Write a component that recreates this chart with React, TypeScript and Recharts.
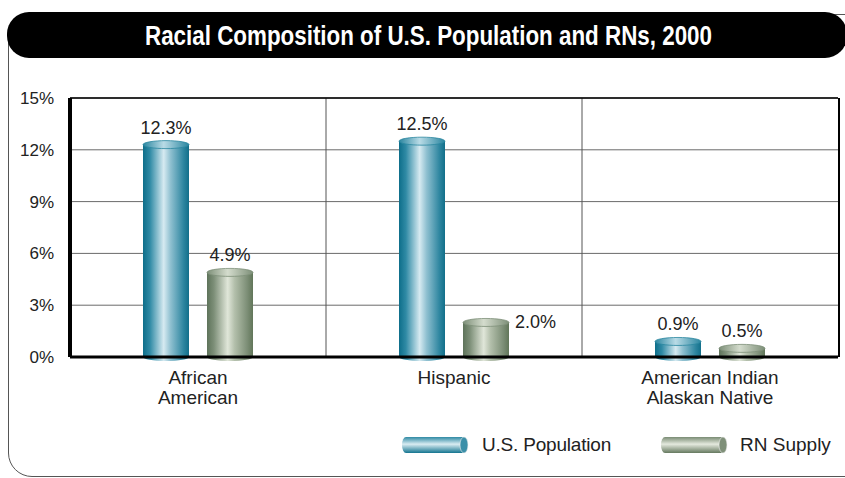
import React from 'react'
import {
  BarChart,
  Bar,
  XAxis,
  YAxis,
  CartesianGrid,
  ReferenceLine,
  LabelList,
} from 'recharts'

const categories = ['African\nAmerican', 'Hispanic', 'American Indian\nAlaskan Native']
const usPopulation = [12.3, 12.5, 0.9]
const rnSupply = [4.9, 2.0, 0.5]
const yTicks = [0, 3, 6, 9, 12, 15]
const seriesNames = ['U.S. Population', 'RN Supply']

const data = categories.map((name, i) => ({
  name,
  us: usPopulation[i],
  rn: rnSupply[i],
}))

const FONT = '"Liberation Sans", Arial, sans-serif'

const Cylinder = (props: any) => {
  const { x, y, width, height, kind } = props
  if (!width || height == null) return null
  const ry = 4
  const cx = x + width / 2
  const body = `url(#${kind}Body)`
  const cap = kind === 'blue' ? '#2a86a0' : '#7d8f78'
  return (
    <g>
      <rect x={x} y={y} width={width} height={height} fill={body} />
      <ellipse cx={cx} cy={y + height} rx={width / 2} ry={ry} fill={body} />
      <ellipse cx={cx} cy={y} rx={width / 2} ry={ry} fill={`url(#${kind}Cap)`} stroke={cap} strokeWidth={0.8} />
    </g>
  )
}

const ValueLabel = (props: any) => {
  const { x, y, width, value, index, series } = props
  const text = `${Number(value).toFixed(1)}%`
  // the Hispanic RN label sits beside its bar in the original
  if (series === 'rn' && index === 1) {
    return (
      <text x={x + width + 6} y={y + 6} fontSize={18} fill="#222" fontFamily={FONT}>
        {text}
      </text>
    )
  }
  return (
    <text x={x + width / 2} y={y - 11} textAnchor="middle" fontSize={18} fill="#222" fontFamily={FONT}>
      {text}
    </text>
  )
}

const CategoryTick = (props: any) => {
  const { x, y, payload } = props
  const lines = String(payload.value).split('\n')
  return (
    <text x={x} y={y} textAnchor="middle" fontSize={19} fill="#222" fontFamily={FONT}>
      {lines.map((l, i) => (
        <tspan key={i} x={x} dy={i === 0 ? 19 : 20}>
          {l}
        </tspan>
      ))}
    </text>
  )
}

// dividers between the category bands
const bandDividers = ({ offset }: any) =>
  categories.slice(1).map((_, i) => offset.left + (offset.width * (i + 1)) / categories.length)

const LegendIcon = ({ kind }: { kind: string }) => (
  <svg width={68} height={20} style={{ display: 'block' }}>
    <defs>
      <linearGradient id={`${kind}Leg`} x1="0" y1="0" x2="0" y2="1">
        <stop offset="0" stopColor={kind === 'blue' ? '#2f8aa4' : '#7a8c74'} />
        <stop offset="0.45" stopColor={kind === 'blue' ? '#d9ecf2' : '#e4e9de'} />
        <stop offset="1" stopColor={kind === 'blue' ? '#137590' : '#65795f'} />
      </linearGradient>
    </defs>
    <rect x={4} y={2} width={58} height={16} fill={`url(#${kind}Leg)`} />
    <ellipse cx={4} cy={10} rx={4} ry={8} fill={`url(#${kind}Leg)`} />
    <ellipse cx={62} cy={10} rx={4} ry={8} fill={kind === 'blue' ? '#3b8fa8' : '#7f9079'} stroke="#eee" strokeWidth={0.6} />
  </svg>
)

export default function App() {
  return (
    <div
      style={{
        position: 'fixed',
        left: 0,
        top: 0,
        width: 845,
        height: 478,
        overflow: 'hidden',
        background: '#fff',
        fontFamily: FONT,
      }}
    >
      <div
        style={{
          position: 'absolute',
          left: 8,
          top: 14,
          width: 860,
          height: 461,
          border: '1.5px solid #555',
          borderRadius: 24,
        }}
      />
      <div
        style={{
          position: 'absolute',
          left: 7,
          top: 12,
          width: 840,
          height: 46,
          background: '#000',
          borderRadius: 22,
        }}
      >
        <svg width={840} height={46} style={{ display: 'block' }}>
          <text
            x={138}
            y={33}
            fill="#fff"
            fontSize={27}
            fontWeight="bold"
            fontFamily={'"Liberation Sans Narrow", "Liberation Sans", Arial, sans-serif'}
            textLength={567}
            lengthAdjust="spacingAndGlyphs"
          >
            Racial Composition of U.S. Population and RNs, 2000
          </text>
        </svg>
      </div>
      <div style={{ position: 'absolute', left: 0, top: 0 }}>
        <BarChart
          width={845}
          height={478}
          data={data}
          margin={{ top: 98, right: 7, left: 0, bottom: 61 }}
          barSize={46}
          barGap={18}
        >
          <defs>
            <linearGradient id="blueBody" x1="0" y1="0" x2="1" y2="0">
              <stop offset="0" stopColor="#0d6e8a" />
              <stop offset="0.15" stopColor="#2f8aa5" />
              <stop offset="0.45" stopColor="#d6eaf1" />
              <stop offset="0.6" stopColor="#8fc0d0" />
              <stop offset="0.88" stopColor="#2e86a0" />
              <stop offset="1" stopColor="#126f8a" />
            </linearGradient>
            <linearGradient id="blueCap" x1="0" y1="0" x2="1" y2="0">
              <stop offset="0" stopColor="#2a86a0" />
              <stop offset="0.45" stopColor="#b9dbe6" />
              <stop offset="1" stopColor="#2a86a0" />
            </linearGradient>
            <linearGradient id="greenBody" x1="0" y1="0" x2="1" y2="0">
              <stop offset="0" stopColor="#5e735a" />
              <stop offset="0.15" stopColor="#7d8f78" />
              <stop offset="0.45" stopColor="#e0e6d9" />
              <stop offset="0.6" stopColor="#b3bfab" />
              <stop offset="0.88" stopColor="#7b8d75" />
              <stop offset="1" stopColor="#617659" />
            </linearGradient>
            <linearGradient id="greenCap" x1="0" y1="0" x2="1" y2="0">
              <stop offset="0" stopColor="#7d8f78" />
              <stop offset="0.45" stopColor="#d4dccd" />
              <stop offset="1" stopColor="#7d8f78" />
            </linearGradient>
          </defs>
          <CartesianGrid vertical={false} stroke="#6a6a6a" strokeWidth={1} />
          <CartesianGrid horizontal={false} verticalCoordinatesGenerator={bandDividers} stroke="#555" strokeWidth={1} />
          <XAxis
            dataKey="name"
            height={60}
            tick={<CategoryTick />}
            tickLine={false}
            axisLine={{ stroke: '#000', strokeWidth: 3 }}
            interval={0}
          />
          <YAxis
            width={70}
            domain={[0, 15]}
            ticks={yTicks}
            tickFormatter={(v) => `${v}%`}
            tickLine={false}
            tickSize={0}
            tickMargin={16}
            axisLine={{ stroke: '#000', strokeWidth: 4 }}
            tick={{ fill: '#222', fontSize: 17, fontFamily: FONT }}
          />
          <ReferenceLine y={15} stroke="#000" strokeWidth={1.5} />
          <Bar dataKey="us" name={seriesNames[0]} isAnimationActive={false} shape={<Cylinder kind="blue" />}>
            <LabelList dataKey="us" content={<ValueLabel series="us" />} />
          </Bar>
          <Bar dataKey="rn" name={seriesNames[1]} isAnimationActive={false} shape={<Cylinder kind="green" />}>
            <LabelList dataKey="rn" content={<ValueLabel series="rn" />} />
          </Bar>
        </BarChart>
      </div>
      <div
        style={{
          position: 'absolute',
          left: 838,
          top: 98,
          width: 2,
          height: 259,
          background: '#000',
        }}
      />
      <div
        style={{
          position: 'absolute',
          left: 402,
          top: 434,
          display: 'flex',
          alignItems: 'center',
          fontSize: 19,
          color: '#222',
        }}
      >
        <LegendIcon kind="blue" />
        <span style={{ marginLeft: 12, letterSpacing: -0.2 }}>{seriesNames[0]}</span>
        <div style={{ width: 50 }} />
        <LegendIcon kind="green" />
        <span style={{ marginLeft: 11 }}>{seriesNames[1]}</span>
      </div>
    </div>
  )
}
